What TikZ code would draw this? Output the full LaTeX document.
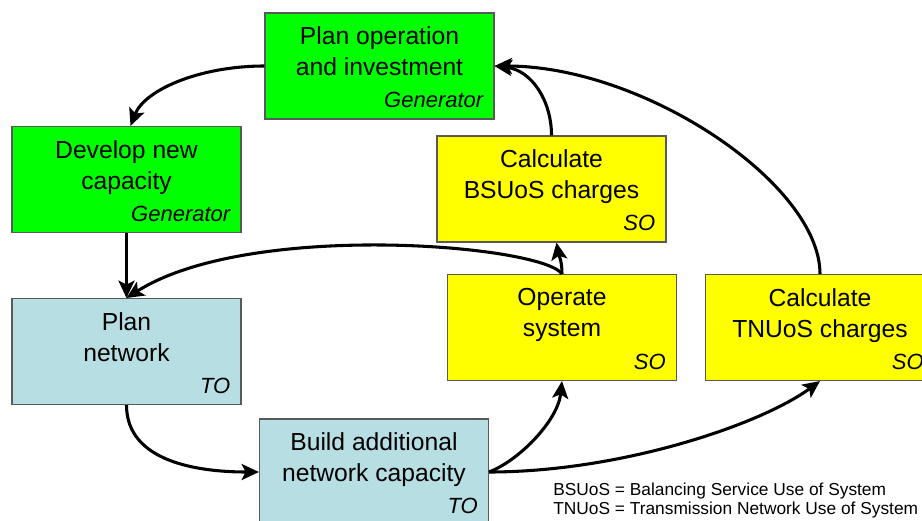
\documentclass[tikz,border=0pt]{standalone}
\usepackage{fontspec}
\setmainfont{Liberation Sans}
\usetikzlibrary{arrows.meta}
\definecolor{gengreen}{RGB}{0,255,0}
\definecolor{soyellow}{RGB}{255,255,0}
\definecolor{toblue}{RGB}{183,222,226}
\begin{document}
\begin{tikzpicture}[x=0.75pt, y=-0.75pt,
	box/.style={draw=gray!70!black, line width=0.8pt, minimum width=171.75pt, minimum height=79.5pt, inner sep=0pt},
	what/.style={anchor=north, inner sep=0pt, align=center, font=\fontsize{18.5pt}{23.25pt}\selectfont},
	who/.style={anchor=base east, inner sep=0pt, font=\fontsize{16.5pt}{18pt}\selectfont\itshape},
	flow/.style={line width=2.3pt, -{Stealth[length=13pt, width=12pt, inset=3pt]}}]
	\clip (0,0) rectangle (922,521);
	
	%generator boxes
	\node[box, fill=gengreen] (planop) at (379.5,66) {};
	\node[what] (planop-what) at ([shift={(0,14)}]planop.north) {Plan operation\\and investment};
	\node[who] (planop-who) at ([shift={(-11,-12)}]planop.south east) {Generator};
	
	\node[box, fill=gengreen] (develop) at (126.5,179.5) {};
	\node[what] (develop-what) at ([shift={(0,14)}]develop.north) {Develop new\\capacity};
	\node[who] (develop-who) at ([shift={(-11,-12)}]develop.south east) {Generator};
	
	%SO boxes
	\node[box, fill=soyellow] (bsuos) at (551.5,189) {};
	\node[what] (bsuos-what) at ([shift={(0,14)}]bsuos.north) {Calculate\\BSUoS charges};
	\node[who] (bsuos-who) at ([shift={(-11,-12)}]bsuos.south east) {SO};
	
	\node[box, fill=soyellow] (opsys) at (562,327.5) {};
	\node[what] (opsys-what) at ([shift={(0,14)}]opsys.north) {Operate\\system};
	\node[who] (opsys-who) at ([shift={(-11,-12)}]opsys.south east) {SO};
	
	\node[box, fill=soyellow] (tnuos) at (820,327.5) {};
	\node[what] (tnuos-what) at ([shift={(0,14)}]tnuos.north) {Calculate\\TNUoS charges};
	\node[who] (tnuos-who) at ([shift={(-11,-12)}]tnuos.south east) {SO};
	
	%TO boxes
	\node[box, fill=toblue] (plannet) at (126.5,351.5) {};
	\node[what] (plannet-what) at ([shift={(0,14)}]plannet.north) {Plan\\network};
	\node[who] (plannet-who) at ([shift={(-11,-12)}]plannet.south east) {TO};
	
	\node[box, fill=toblue] (build) at (374,472) {};
	\node[what] (build-what) at ([shift={(0,14)}]build.north) {Build additional\\network capacity};
	\node[who] (build-who) at ([shift={(-11,-12)}]build.south east) {TO};
	
	%flows
	\draw[flow] (planop.west) .. controls +(-65,0) and +(14,-36) .. ([shift={(4,0)}]develop.north);
	\draw[flow] (develop.south) -- (plannet.north);
	\draw[flow] (opsys.north) .. controls +(-20,-29) and +(123,-78) .. (plannet.north);
	\draw[flow] (opsys.north) .. controls +(0,-14) and +(2,12) .. ([shift={(5,0)}]bsuos.south);
	\draw[flow] (bsuos.north) .. controls +(0,-36) and +(36,4) .. (planop.east);
	\draw[flow] (tnuos.north) .. controls +(0,-90) and +(150,0) .. (planop.east);
	\draw[flow] (plannet.south) to[out=-90, in=180] (build.west);
	\draw[flow] (build.east) .. controls +(31,-12) and +(-4,39) .. (opsys.south);
	\draw[flow] (build.east) .. controls +(131,0) and +(-60,44) .. (tnuos.south);
	
	%legend
	\node[anchor=north west, inner sep=0pt, align=left, font=\fontsize{13pt}{13.9pt}\selectfont] (legend) at (553,483) {BSUoS = Balancing Service Use of System\\TNUoS = Transmission Network Use of System};
\end{tikzpicture}
\end{document}
